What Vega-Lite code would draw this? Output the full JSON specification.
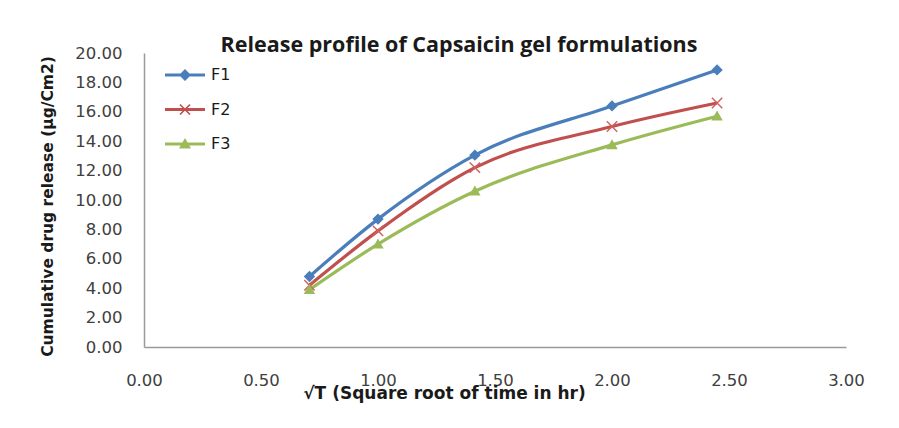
{
  "$schema": "https://vega.github.io/schema/vega-lite/v6.json",
  "autosize": {"type": "none"},
  "width": 702,
  "height": 294,
  "padding": {"left": 144, "top": 53, "right": 53, "bottom": 81},
  "background": "white",
  "config": {"view": {"stroke": null}},
  "title": {
    "text": "Release profile of Capsaicin gel formulations",
    "font": "Open Sans",
    "fontSize": 21.5,
    "fontWeight": "bold",
    "color": "#1a1a1a",
    "anchor": "middle",
    "dx": -36,
    "offset": -11
  },
  "data": {
    "values": [
      {"x": 0.707, "y": 4.8, "series": "F1"},
      {"x": 1.0, "y": 8.7, "series": "F1"},
      {"x": 1.414, "y": 13.05, "series": "F1"},
      {"x": 2.0, "y": 16.4, "series": "F1"},
      {"x": 2.449, "y": 18.85, "series": "F1"},
      {"x": 0.707, "y": 4.2, "series": "F2"},
      {"x": 1.0, "y": 7.9, "series": "F2"},
      {"x": 1.414, "y": 12.2, "series": "F2"},
      {"x": 2.0, "y": 15.0, "series": "F2"},
      {"x": 2.449, "y": 16.6, "series": "F2"},
      {"x": 0.707, "y": 3.9, "series": "F3"},
      {"x": 1.0, "y": 7.0, "series": "F3"},
      {"x": 1.414, "y": 10.6, "series": "F3"},
      {"x": 2.0, "y": 13.75, "series": "F3"},
      {"x": 2.449, "y": 15.7, "series": "F3"}
    ]
  },
  "encoding": {
    "x": {
      "field": "x",
      "type": "quantitative",
      "scale": {"domain": [0, 3], "nice": false, "zero": false},
      "axis": {
        "values": [0, 0.5, 1, 1.5, 2, 2.5, 3],
        "format": ".2f",
        "grid": false,
        "ticks": false,
        "labelFlush": false,
        "labelOverlap": false,
        "domainColor": "#9a9a9a",
        "domainWidth": 1.5,
        "labelFont": "DejaVu Sans",
        "labelFontSize": 16.5,
        "labelColor": "#404040",
        "labelPadding": 25,
        "title": "√T (Square root of time in hr)",
        "titleFont": "DejaVu Sans",
        "titleFontSize": 17,
        "titleFontWeight": "bold",
        "titleColor": "#1a1a1a",
        "titleX": 300,
        "titleY": 46,
        "titleAlign": "center",
        "titleBaseline": "middle"
      }
    },
    "y": {
      "field": "y",
      "type": "quantitative",
      "scale": {"domain": [0, 20], "nice": false},
      "axis": {
        "values": [0, 2, 4, 6, 8, 10, 12, 14, 16, 18, 20],
        "format": ".2f",
        "grid": false,
        "ticks": false,
        "labelFlush": false,
        "labelOverlap": false,
        "domainColor": "#9a9a9a",
        "domainWidth": 1.5,
        "labelFont": "DejaVu Sans",
        "labelFontSize": 16.5,
        "labelColor": "#404040",
        "labelPadding": 22,
        "title": "Cumulative drug release (µg/Cm2)",
        "titleFont": "DejaVu Sans",
        "titleFontSize": 15.5,
        "titleFontWeight": "bold",
        "titleColor": "#1a1a1a",
        "titleX": -97,
        "titleY": 153,
        "titleAlign": "center",
        "titleBaseline": "middle",
        "titleAngle": -90
      }
    }
  },
  "layer": [
    {
      "mark": {"type": "line", "interpolate": "monotone", "strokeWidth": 3.2},
      "encoding": {
        "color": {
          "field": "series",
          "type": "nominal",
          "scale": {"domain": ["F1", "F2", "F3"], "range": ["#4a7ebb", "#c0504d", "#9bbb59"]},
          "legend": null
        }
      }
    },
    {
      "mark": {"type": "point", "filled": true, "opacity": 1, "size": 130},
      "encoding": {
        "color": {
          "field": "series",
          "type": "nominal",
          "scale": {"domain": ["F1", "F2", "F3"], "range": ["#4a7ebb", "#d0605d", "#9bbb59"]},
          "legend": null
        },
        "shape": {
          "field": "series",
          "type": "nominal",
          "scale": {
            "domain": ["F1", "F2", "F3"],
            "range": [
              "diamond",
              "M-1,-0.82L-0.82,-1L1,0.82L0.82,1Z M-1,0.82L0.82,-1L1,-0.82L-0.82,1Z",
              "M0,-1L1,0.75L-1,0.75Z"
            ]
          },
          "legend": null
        }
      }
    },
    {
      "transform": [{"filter": "datum.series == 'none'"}],
      "mark": {"type": "point", "filled": true, "opacity": 1},
      "encoding": {
        "color": {
          "field": "series",
          "type": "nominal",
          "scale": {"domain": ["F1", "F2", "F3"], "range": ["#4a7ebb", "#c0504d", "#9bbb59"]},
          "legend": {
            "title": null,
            "orient": "none",
            "legendX": 31,
            "legendY": 12,
            "padding": 0,
            "symbolSize": 400,
            "symbolStrokeWidth": 0,
            "rowPadding": 16.5,
            "labelOffset": 16,
            "labelFont": "DejaVu Sans",
            "labelFontSize": 16,
            "labelColor": "#1a1a1a"
          }
        },
        "shape": {
          "field": "series",
          "type": "nominal",
          "scale": {
            "domain": ["F1", "F2", "F3"],
            "range": [
              "M-2,-0.15H2V0.15H-2Z M0,-0.6L0.6,0L0,0.6L-0.6,0Z",
              "M-2,-0.15H2V0.15H-2Z M-0.56,-0.44L-0.44,-0.56L0.56,0.44L0.44,0.56Z M-0.56,0.44L0.44,-0.56L0.56,-0.44L-0.44,0.56Z",
              "M-2,-0.15H2V0.15H-2Z M0,-0.6L0.6,0.45L-0.6,0.45Z"
            ]
          },
          "legend": {
            "title": null,
            "orient": "none",
            "legendX": 31,
            "legendY": 12,
            "padding": 0,
            "symbolSize": 400,
            "symbolStrokeWidth": 0,
            "rowPadding": 16.5,
            "labelOffset": 16,
            "labelFont": "DejaVu Sans",
            "labelFontSize": 16,
            "labelColor": "#1a1a1a"
          }
        }
      }
    }
  ],
  "resolve": {"scale": {"color": "independent", "shape": "independent"}}
}
